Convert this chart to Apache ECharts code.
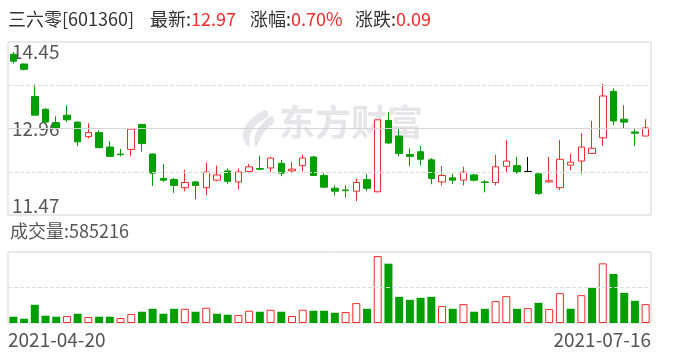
<!DOCTYPE html>
<html><head><meta charset="utf-8">
<script src="https://cdn.jsdelivr.net/npm/echarts@6/dist/echarts.min.js"></script>
<style>html,body{margin:0;padding:0;background:#fff}#c{width:688px;height:360px}</style>
</head><body><div id="c"></div>
<script>
const dates = ['2021-04-20','2021-04-21','2021-04-22','2021-04-23','2021-04-26','2021-04-27','2021-04-28','2021-04-29','2021-04-30',
'2021-05-06','2021-05-07','2021-05-10','2021-05-11','2021-05-12','2021-05-13','2021-05-14','2021-05-17','2021-05-18','2021-05-19','2021-05-20','2021-05-21','2021-05-24','2021-05-25','2021-05-26','2021-05-27','2021-05-28','2021-05-31',
'2021-06-01','2021-06-02','2021-06-03','2021-06-04','2021-06-07','2021-06-08','2021-06-09','2021-06-10','2021-06-11','2021-06-15','2021-06-16','2021-06-17','2021-06-18','2021-06-21','2021-06-22','2021-06-23','2021-06-24','2021-06-25','2021-06-28','2021-06-29','2021-06-30',
'2021-07-01','2021-07-02','2021-07-05','2021-07-06','2021-07-07','2021-07-08','2021-07-09','2021-07-12','2021-07-13','2021-07-14','2021-07-15','2021-07-16'];
const opens  = [14.24,14.07,13.51,13.29,13.06,13.19,13.07,12.82,12.89,12.64,12.52,12.60,13.03,12.52,12.10,12.08,11.94,12.04,11.94,12.07,12.23,12.04,12.22,12.27,12.28,12.36,12.23,12.32,12.47,12.15,11.93,11.90,11.88,12.08,11.87,13.10,12.83,12.51,12.56,12.42,12.04,12.11,12.07,12.16,12.04,12.03,12.31,12.32,12.22,12.18,12.04,11.94,12.33,12.40,12.53,12.80,13.60,13.12,12.90,12.83];
const closes = [14.12,13.98,13.19,13.07,12.96,13.11,12.73,12.89,12.63,12.48,12.51,12.95,12.70,12.19,12.07,11.98,12.03,11.98,12.21,12.16,12.05,12.21,12.30,12.26,12.45,12.19,12.26,12.45,12.15,11.95,11.88,11.89,12.03,11.93,13.11,12.71,12.53,12.48,12.43,12.10,12.15,12.07,12.21,12.07,12.03,12.30,12.40,12.21,12.22,11.84,12.06,12.43,12.38,12.64,12.62,13.52,13.09,13.07,12.88,12.97];
const lows   = [14.08,13.96,13.19,13.06,12.95,13.07,12.66,12.79,12.62,12.47,12.48,12.48,12.56,11.97,12.04,11.85,11.88,11.74,11.81,12.05,12.01,11.91,12.19,12.24,12.21,12.14,12.19,12.22,12.14,11.93,11.81,11.77,11.71,11.88,11.86,12.69,12.48,12.31,12.32,12.00,11.98,12.00,11.98,12.05,11.86,11.98,12.20,12.18,12.21,11.82,12.03,11.90,12.24,12.18,12.53,12.66,13.02,12.96,12.66,12.83];
const highs  = [14.28,14.08,13.72,13.31,13.17,13.36,13.08,13.05,12.93,12.74,12.61,12.97,13.04,12.53,12.35,12.11,12.25,12.05,12.37,12.32,12.27,12.27,12.35,12.49,12.47,12.42,12.38,12.51,12.49,12.20,11.98,11.98,12.10,12.18,13.11,13.24,12.97,12.61,12.66,12.45,12.31,12.18,12.30,12.18,12.07,12.51,12.76,12.47,12.47,12.18,12.47,12.76,12.53,12.88,13.09,13.73,13.65,13.36,12.96,13.12];
const volumes = [195000,133000,565000,226000,195000,216000,287000,185000,195000,195000,154000,277000,349000,441000,287000,441000,441000,349000,472000,287000,257000,246000,380000,349000,411000,349000,216000,411000,380000,380000,318000,339000,616000,441000,2074000,1838000,811000,719000,780000,811000,524000,441000,585000,349000,441000,678000,832000,441000,462000,626000,431000,924000,441000,862000,1088000,1848000,1520000,934000,688000,585216];
const priceMin = 11.47, priceMax = 14.45;
const priceTickLabels = [11.47, 12.96, 14.45];
const priceDashedLines = [12.215, 13.705];
const priceSolidLines = [12.96];
const volumeMax = 2200000;
const volumeDashedLines = [1100000];
const stockName = '三六零', stockCode = '601360';
const latest = '12.97', changePct = '0.70%', change = '0.09';
const watermarkText = '东方财富';

const RED = '#f52a2a', GREEN = '#009f00', GRAYTXT = '#555', FONT = '"Noto Sans CJK SC","Microsoft YaHei",sans-serif';
const WM = '#e6e6ea';
const candleData = opens.map((o, i) => [o, closes[i], lows[i], highs[i]]);
const volData = volumes.map((v, i) => {
  const up = i === 0 ? closes[0] >= opens[0] : closes[i] >= closes[i - 1];
  return { value: v, itemStyle: up ? { color: '#fff', borderColor: RED, borderWidth: 1 } : { color: GREEN, borderWidth: 0 } };
});
const gridLine = (vals, type) => vals.map(v => ({ yAxis: v, lineStyle: { type: type, color: type === 'solid' ? '#d6d6da' : '#dcdcdc', width: 1 } }));

const chart = echarts.init(document.getElementById('c'), null, { renderer: 'canvas' });
chart.setOption({
  animation: false,
  backgroundColor: '#fff',
  grid: [
    { left: 8, right: 37, top: 42, height: 173, show: true, borderColor: '#d3d3da', borderWidth: 1 },
    { left: 8, right: 37, top: 252, height: 71, show: true, borderColor: '#d3d3da', borderWidth: 1 }
  ],
  xAxis: [
    { type: 'category', gridIndex: 0, data: dates, boundaryGap: true, axisLine: { show: false }, axisTick: { show: false }, axisLabel: { show: false }, splitLine: { show: false } },
    { type: 'category', gridIndex: 1, data: dates, boundaryGap: true, axisLine: { show: false }, axisTick: { show: false }, axisLabel: { show: false }, splitLine: { show: false } }
  ],
  yAxis: [
    { type: 'value', gridIndex: 0, min: priceMin, max: priceMax, scale: true,
      axisLine: { show: false }, axisTick: { show: false }, splitLine: { show: false },
      axisLabel: { inside: true, margin: 4, customValues: priceTickLabels, formatter: v => v.toFixed(2),
        color: GRAYTXT, fontSize: 19, fontFamily: FONT,
        verticalAlignMaxLabel: 'top', verticalAlignMinLabel: 'bottom' } },
    { type: 'value', gridIndex: 1, min: 0, max: volumeMax,
      axisLine: { show: false }, axisTick: { show: false }, splitLine: { show: false }, axisLabel: { show: false } }
  ],
  series: [
    { type: 'candlestick', xAxisIndex: 0, yAxisIndex: 0, data: candleData, barWidth: 7,
      itemStyle: { color: '#fff', color0: GREEN, borderColor: RED, borderColor0: GREEN, borderColorDoji: '#000', borderWidth: 1 },
      markLine: { silent: true, symbol: 'none', label: { show: false }, animation: false,
        data: gridLine(priceDashedLines, 'dashed').concat(gridLine(priceSolidLines, 'solid')) } },
    { type: 'bar', xAxisIndex: 1, yAxisIndex: 1, data: volData, barWidth: 8,
      markLine: { silent: true, symbol: 'none', label: { show: false }, animation: false,
        data: gridLine(volumeDashedLines, 'dashed') } }
  ],
  graphic: [
    { type: 'polygon', z: 0, shape: { smooth: 0.4, points: [[266, 110], [252, 118], [244, 130], [244, 140], [249, 147], [250, 136], [256, 125], [268, 116]] }, style: { fill: WM } },
    { type: 'polygon', z: 0, shape: { smooth: 0.4, points: [[272, 116], [262, 124], [255, 135], [256, 147], [261, 137], [268, 128], [274, 122]] }, style: { fill: WM } },
    { type: 'text', left: 279, top: 104, z: 0, style: { text: watermarkText, fill: WM, font: 'bold 36px ' + FONT } },
    { type: 'text', left: 8, top: 10, style: { text: stockName + '[' + stockCode + ']', fill: '#333', font: '18px ' + FONT } },
    { type: 'text', left: 150, top: 10, style: { text: '{k|最新:}{r|' + latest + '}', rich: { k: { fill: '#333', font: '18px ' + FONT }, r: { fill: RED, font: '18px ' + FONT } } } },
    { type: 'text', left: 250, top: 10, style: { text: '{k|涨幅:}{r|' + changePct + '}', rich: { k: { fill: '#333', font: '18px ' + FONT }, r: { fill: RED, font: '18px ' + FONT } } } },
    { type: 'text', left: 355, top: 10, style: { text: '{k|涨跌:}{r|' + change + '}', rich: { k: { fill: '#333', font: '18px ' + FONT }, r: { fill: RED, font: '18px ' + FONT } } } },
    { type: 'text', left: 10, top: 222, style: { text: '成交量:' + volumes[volumes.length - 1], fill: GRAYTXT, font: '18px ' + FONT } },
    { type: 'text', left: 8, top: 330, style: { text: dates[0], fill: GRAYTXT, font: '19px ' + FONT } },
    { type: 'text', right: 37, top: 330, style: { text: dates[dates.length - 1], fill: GRAYTXT, font: '19px ' + FONT } }
  ]
});
</script></body></html>
